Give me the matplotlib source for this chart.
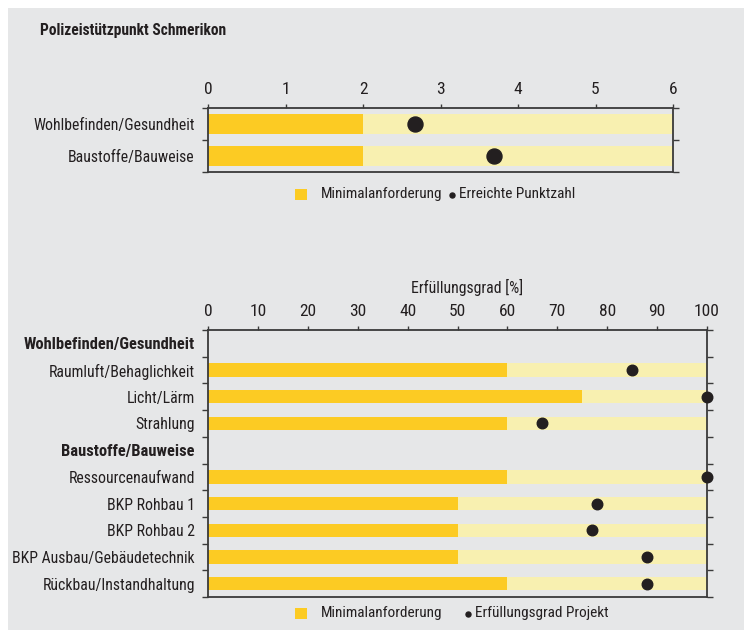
"""Polizeistützpunkt Schmerikon — Minimalanforderung vs. erreichte Werte."""

import matplotlib
matplotlib.use("Agg")
import matplotlib.pyplot as plt
from matplotlib.lines import Line2D
from matplotlib.patches import Rectangle
import numpy as np

plt.rcParams.update({
    "font.family": ["Roboto Condensed", "DejaVu Sans"],
    "font.size": 11.3,
})

# Colours
BG = "#e6e7e8"
DARK_YELLOW = "#fccb23"
LIGHT_YELLOW = "#f8f0b0"
DOT = "#231f20"
AXIS = "#3a3a3a"
TEXT = "#231f20"
FS = 11.3
LEG_FS = 11.0

# Top chart data (Punktzahl)
top_labels = ["Wohlbefinden/Gesundheit", "Baustoffe/Bauweise"]
top_min = [2, 2]
top_max = [6, 6]
top_score = [2.67, 3.69]
top_legend = ["Minimalanforderung", "Erreichte Punktzahl"]

# Bottom chart data (Erfüllungsgrad %)
bottom_labels = [
    "Wohlbefinden/Gesundheit", "Raumluft/Behaglichkeit", "Licht/Lärm", "Strahlung",
    "Baustoffe/Bauweise", "Ressourcenaufwand", "BKP Rohbau 1", "BKP Rohbau 2",
    "BKP Ausbau/Gebäudetechnik", "Rückbau/Instandhaltung",
]
bottom_headers = [True, False, False, False, True, False, False, False, False, False]
bottom_min = [np.nan, 60, 75, 60, np.nan, 60, 50, 50, 50, 60]
bottom_max = [np.nan, 100, 100, 100, np.nan, 100, 100, 100, 100, 100]
bottom_score = [np.nan, 85, 100, 67, np.nan, 100, 78, 77, 88, 88]
bottom_legend = ["Minimalanforderung", "Erfüllungsgrad Projekt"]

W, H = 744, 631
fig = plt.figure(figsize=(W / 100, H / 100), dpi=100)
fig.patch.set_facecolor("white")
fig.patches.append(Rectangle((8 / W, 1 - 630 / H), 1, (630 - 8) / H,
                             transform=fig.transFigure, facecolor=BG,
                             edgecolor="none", zorder=-10))


def px_axes(left, top, right, bottom):
    return fig.add_axes([left / W, 1 - bottom / H, (right - left) / W, (bottom - top) / H])


def style_axes(ax, n, xmax, xticks):
    ax.set_facecolor("none")
    ax.set_xlim(0, xmax)
    ax.set_ylim(n - 0.5, -0.5)
    ax.xaxis.tick_top()
    ax.set_xticks(xticks)
    ax.tick_params(axis="x", direction="out", length=3, width=1, color=AXIS,
                   labelsize=12.5, pad=5, labelcolor=TEXT)
    ax.set_yticks(range(n))
    ax.set_yticks(np.arange(-0.5, n, 1), minor=True)
    ax.tick_params(axis="y", which="major", length=0, pad=9.5, labelsize=FS,
                   labelcolor=TEXT)
    ax.tick_params(axis="y", which="minor", direction="out", length=4, width=1,
                   color=AXIS, left=True, right=True)
    for sp in ax.spines.values():
        sp.set_color(AXIS)
        sp.set_linewidth(1.3)


def draw_legend(y, labels, dot_x, text2_x):
    # square + text, then small dot + text (pixel positions from the top-left)
    fig.patches.append(Rectangle((295 / W, 1 - (y + 6) / H), 12 / W, 11 / H,
                                 transform=fig.transFigure, facecolor=DARK_YELLOW,
                                 edgecolor="none"))
    fig.text(321 / W, 1 - y / H, labels[0], fontsize=LEG_FS, va="center", ha="left", color=TEXT)
    fig.add_artist(Line2D([dot_x / W], [1 - (y + 1) / H], transform=fig.transFigure,
                          marker="o", markersize=3.6, color=DOT, linestyle="none"))
    fig.text(text2_x / W, 1 - y / H, labels[1], fontsize=LEG_FS, va="center", ha="left", color=TEXT)


# Title
fig.text(40 / W, 1 - 30 / H, "Polizeistützpunkt Schmerikon", fontsize=11.2,
         fontweight="bold", va="center", ha="left", color=TEXT)

# Top chart
ax1 = px_axes(208, 108, 673, 172)
y1 = np.arange(len(top_labels))
ax1.barh(y1, top_max, height=0.62, color=LIGHT_YELLOW, zorder=1)
ax1.barh(y1, top_min, height=0.62, color=DARK_YELLOW, zorder=2)
ax1.scatter(top_score, y1, s=10.8 ** 2, color=DOT, zorder=3, clip_on=False)
style_axes(ax1, len(top_labels), 6, range(7))
ax1.set_yticklabels(top_labels)
draw_legend(194, top_legend, 452, 459)

# Bottom chart
ax2 = px_axes(208, 330, 707, 597)
y2 = np.arange(len(bottom_labels))
ax2.barh(y2, bottom_max, height=0.5, color=LIGHT_YELLOW, zorder=1)
ax2.barh(y2, bottom_min, height=0.5, color=DARK_YELLOW, zorder=2)
ax2.scatter(bottom_score, y2, s=7.6 ** 2, color=DOT, zorder=3, clip_on=False)
style_axes(ax2, len(bottom_labels), 100, range(0, 101, 10))
ax2.set_yticklabels(bottom_labels)
for lbl, is_header in zip(ax2.get_yticklabels(), bottom_headers):
    if is_header:
        lbl.set_fontweight("bold")
        lbl.set_fontsize(11.9)
fig.text(467 / W, 1 - 287 / H, "Erfüllungsgrad [%]", fontsize=FS,
         ha="center", va="center", color=TEXT)
draw_legend(613, bottom_legend, 468, 475)

fig.savefig("out.png", dpi=100, facecolor=fig.get_facecolor())
